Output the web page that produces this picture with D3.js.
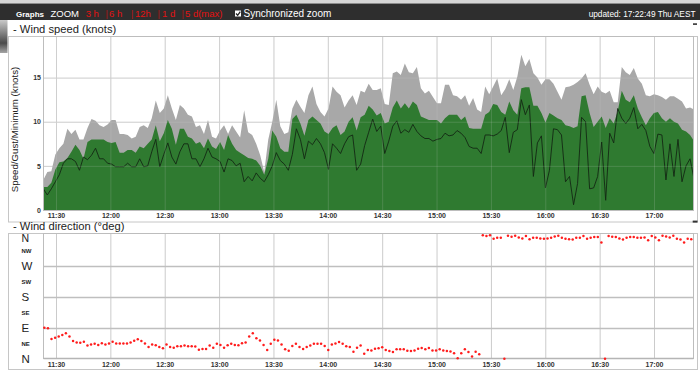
<!DOCTYPE html>
<html>
<head>
<meta charset="utf-8">
<title>Wind</title>
<script src="https://cdn.jsdelivr.net/npm/d3@7"></script>
<style>
  body { margin: 0; background: #fff; }
  svg { display: block; font-family: "Liberation Sans", Arial, sans-serif; }
</style>
</head>
<body>
<svg id="chart" width="700" height="372"></svg>
<script>
// speed samples (knots), roughly every 2 minutes
var speedStart = "11:23:00";
var speedStepSec = 133;

var gust = [3.4, 4.3, 4.4, 6.3, 7.0, 7.5, 9.2, 8.6, 9.1, 8.0,
  8.0, 9.3, 10.3, 10.1, 9.6, 9.4, 9.7, 10.2, 10.2, 8.6,
  8.6, 8.5, 8.1, 8.3, 9.4, 9.6, 9.3, 10.4, 12.4, 11.0,
  11.5, 13.0, 11.5, 10.2, 11.9, 11.5, 10.8, 10.6, 9.4, 9.6,
  8.6, 10.2, 8.3, 8.1, 9.0, 9.6, 8.6, 9.6, 8.9, 8.2,
  11.3, 8.8, 8.5, 7.5, 6.2, 4.3, 8.0, 10.0, 12.5, 9.5,
  8.6, 8.8, 11.5, 12.5, 11.7, 11.0, 13.0, 14.0, 12.0, 11.1,
  10.6, 11.5, 14.0, 13.4, 13.0, 11.6, 12.4, 13.0, 11.9, 13.5,
  13.3, 14.3, 13.6, 13.6, 13.8, 12.0, 11.9, 15.5, 15.7, 15.3,
  16.6, 15.6, 15.5, 16.2, 13.8, 13.2, 13.5, 12.8, 12.1, 12.1,
  14.2, 14.2, 13.0, 12.9, 12.5, 13.0, 11.8, 12.7, 11.4, 11.1,
  14.0, 13.1, 14.0, 14.9, 13.0, 13.7, 14.8, 13.6, 15.1, 17.6,
  16.3, 17.1, 15.5, 15.0, 14.2, 14.8, 14.8, 14.3, 13.4, 12.5,
  13.9, 14.0, 14.2, 14.5, 14.9, 15.5, 14.2, 13.1, 14.0, 13.4,
  13.2, 13.5, 12.2, 12.2, 16.2, 15.6, 15.3, 16.1, 14.9, 14.3,
  13.0, 12.9, 13.1, 13.0, 12.8, 12.5, 12.9, 12.9, 12.6, 12.3,
  11.5, 11.6, 11.4];

var speed = [2.6, 2.6, 3.1, 4.6, 5.4, 5.5, 5.9, 6.6, 7.4, 6.8,
  5.8, 7.7, 8.0, 8.0, 8.0, 8.0, 7.7, 7.6, 7.7, 6.5,
  6.5, 6.8, 6.8, 6.5, 7.2, 7.0, 7.5, 8.0, 9.6, 7.8,
  8.7, 10.2, 9.2, 7.4, 9.2, 9.2, 8.3, 8.1, 7.5, 7.7,
  7.0, 8.1, 7.2, 6.9, 7.7, 6.8, 8.5, 7.5, 6.8, 6.5,
  6.2, 5.9, 5.8, 5.6, 5.0, 4.0, 5.8, 9.0, 8.3, 7.0,
  6.6, 6.6, 10.3, 10.8, 9.8, 8.4, 10.2, 10.6, 10.2, 9.8,
  8.9, 8.6, 9.3, 9.6, 8.5, 8.9, 10.0, 10.5, 9.0, 10.5,
  10.8, 11.8, 11.4, 10.7, 11.0, 9.8, 10.0, 11.6, 12.4, 11.5,
  12.1, 11.5, 12.3, 11.9, 10.6, 10.4, 10.2, 10.2, 10.2, 9.8,
  10.4, 10.8, 10.8, 10.8, 10.2, 10.6, 9.3, 9.2, 9.2, 9.2,
  10.8, 11.1, 12.0, 11.9, 11.1, 10.8, 12.3, 11.3, 10.8, 13.8,
  13.9, 13.9, 11.8, 11.8, 11.0, 9.9, 11.0, 10.7, 10.4, 10.2,
  9.6, 9.5, 9.3, 9.5, 12.9, 13.0, 11.0, 9.4, 10.0, 10.6,
  9.3, 10.4, 9.8, 11.2, 13.5, 12.5, 12.2, 13.0, 11.5, 10.5,
  9.6, 10.4, 11.0, 11.1, 10.4, 10.0, 10.4, 10.0, 9.8, 9.1,
  8.9, 8.5, 7.8];

var minimum = [2.4, 1.7, 2.4, 3.2, 4.0, 5.3, 5.8, 5.8, 5.5, 4.5,
  6.0, 5.7, 6.2, 7.0, 5.8, 5.8, 5.3, 5.2, 4.9, 4.9,
  4.9, 5.3, 4.9, 4.9, 5.8, 4.9, 5.0, 6.6, 8.0, 4.9,
  6.3, 7.6, 6.0, 5.2, 6.6, 7.5, 7.5, 5.8, 5.8, 4.9,
  5.8, 7.0, 6.0, 5.8, 5.5, 4.3, 5.8, 5.6, 5.0, 5.3,
  3.2, 3.8, 3.3, 4.2, 3.6, 3.2, 4.0, 5.0, 6.5, 5.6,
  5.2, 4.5, 6.3, 9.2, 8.0, 5.8, 7.8, 7.4, 8.1, 7.5,
  6.5, 4.6, 7.5, 7.0, 6.4, 7.5, 8.3, 8.5, 4.5, 5.2,
  7.3, 8.8, 10.3, 8.9, 9.5, 6.4, 7.8, 9.5, 10.1, 8.7,
  9.1, 8.8, 9.7, 8.9, 8.4, 8.1, 8.1, 7.8, 8.0, 8.1,
  8.7, 8.4, 8.5, 9.0, 8.7, 8.2, 7.2, 7.0, 7.0, 6.4,
  8.5, 8.5, 8.4, 8.6, 9.0, 10.5, 6.5, 8.8, 9.1, 12.5,
  10.8, 11.9, 3.8, 7.6, 8.4, 2.5, 4.5, 9.2, 9.1, 8.5,
  3.2, 3.8, 0.6, 3.0, 10.5, 10.0, 2.4, 2.5, 3.8, 7.7,
  1.1, 8.7, 7.6, 11.5, 10.4, 9.8, 10.4, 11.6, 9.2, 9.7,
  9.0, 7.2, 6.4, 8.6, 8.5, 3.4, 7.5, 3.8, 8.0, 3.2,
  5.0, 5.8, 3.5];

// wind direction (degrees), roughly every 2 minutes
var dirStart = "11:23:34";
var dirStepSec = 119;

var direction = [91, 89, 58, 62, 65, 70, 75, 65, 52, 48,
  47, 50, 39, 42, 44, 41, 46, 42, 45, 50,
  45, 45, 45, 45, 48, 53, 57, 52, 45, 35,
  42, 40, 35, 31, 42, 35, 33, 37, 37, 39,
  37, 37, 36, 27, 29, 29, 39, 33, 44, 41,
  33, 40, 44, 41, 40, 46, 48, 65, 75, 60,
  54, 41, 26, 44, 56, 54, 42, 28, 24, 38,
  44, 35, 29, 35, 39, 44, 44, 44, 38, 26,
  42, 45, 49, 44, 37, 35, 21, 33, 39, 15,
  26, 25, 30, 31, 34, 26, 23, 20, 28, 28,
  28, 24, 23, 25, 30, 32, 28, 32, 25, 25,
  28, 25, 23, 22, 17, 2, 17, 28, 20, 7,
  21, 14, 359, 357, 359, 349, 352, 352, 1, 358,
  355, 358, 353, 350, 357, 348, 352, 352, 350, 349,
  350, 352, 356, 358, 352, 349, 348, 347, 352, 352,
  357, 349, 352, 354, 354, 338, 1, 357, 355, 354,
  350, 347, 352, 354, 354, 352, 352, 353, 345, 357,
  353, 345, 358, 356, 353, 358, 349, 347, 338, 349,
  348];

var timeTickLabels = ["11:30", "12:00", "12:30", "13:00", "13:30", "14:00",
  "14:30", "15:00", "15:30", "16:00", "16:30", "17:00"];
var speedTicks = [0, 5, 10, 15];
var speedGrid = [5, 10, 15];
var dirTickDeg = [0, 45, 90, 135, 180, 225, 270, 315, 360];
var dirTickLabels = ["N", "NE", "E", "SE", "S", "SW", "W", "NW", "N"];
var dirGrid = [90, 180, 270];
var zoomLinks = ["3 h", "6 h", "12h", "1 d", "5 d(max)"];
var updatedText = "updated: 17:22:49 Thu AEST";

var parseHMS = d3.timeParse("%H:%M:%S");
var parseHM = d3.timeParse("%H:%M");
var fmtHM = d3.timeFormat("%H:%M");

var speedTimes = gust.map(function(d, i) {
  return new Date(parseHMS(speedStart).getTime() + i * speedStepSec * 1000);
});
var dirTimes = direction.map(function(d, i) {
  return new Date(parseHMS(dirStart).getTime() + i * dirStepSec * 1000);
});
var tickTimes = timeTickLabels.map(function(t) { return parseHM(t); });

var plotL = 43.5, plotR = 693.5;
var sTop = 36.5, sBot = 210.5;
var dTop = 233.5, dBot = 358.5;

var x = d3.scaleTime()
  .domain([parseHMS("11:22:50"), parseHMS("17:21:31")])
  .range([43, 693]);
var ySpeed = d3.scaleLinear().domain([0, 19.6]).range([210, 37]);
var yDir = d3.scaleLinear().domain([0, 360]).range([359, 235]);

var svg = d3.select("#chart");
var defs = svg.append("defs");

defs.append("clipPath").attr("id", "clipSpeed")
  .append("rect").attr("x", plotL).attr("y", sTop + 0.5)
  .attr("width", plotR - plotL - 0.5).attr("height", sBot - sTop - 0.5);
defs.append("clipPath").attr("id", "clipDir")
  .append("rect").attr("x", plotL - 2).attr("y", dTop)
  .attr("width", plotR - plotL + 3).attr("height", dBot - dTop + 1.5);

var grad = defs.append("linearGradient").attr("id", "strip")
  .attr("x1", 0).attr("y1", 0).attr("x2", 0).attr("y2", 1);
grad.append("stop").attr("offset", "0%").attr("stop-color", "#c9c9c9");
grad.append("stop").attr("offset", "35%").attr("stop-color", "#8a8a8a");
grad.append("stop").attr("offset", "70%").attr("stop-color", "#4a4a4a");
grad.append("stop").attr("offset", "100%").attr("stop-color", "#a5a5a5");

// ---- header bar
svg.append("rect").attr("x", 0).attr("y", 0).attr("width", 700).attr("height", 3.5).attr("fill", "#d6d6d6");
svg.append("rect").attr("x", 0).attr("y", 3.5).attr("width", 700).attr("height", 16.5).attr("fill", "#2e2e2e");

svg.append("text").attr("x", 16).attr("y", 16.8)
  .attr("font-size", 8).attr("font-weight", "bold").attr("fill", "#fff").text("Graphs");
svg.append("text").attr("x", 50.5).attr("y", 17)
  .attr("font-size", 9.5).attr("fill", "#fff").text("ZOOM");

var linkX = [85.7, 109, 135, 162, 185];
var sepX = [105.5, 131, 157.5, 181.5];
svg.selectAll(".zlink").data(zoomLinks).enter().append("text")
  .attr("class", "zlink")
  .attr("x", function(d, i) { return linkX[i]; })
  .attr("y", 17).attr("font-size", 9.5).attr("fill", "#e21212")
  .text(function(d) { return d; });
svg.selectAll(".zsep").data(sepX).enter().append("text")
  .attr("class", "zsep")
  .attr("x", function(d) { return d; })
  .attr("y", 17).attr("font-size", 9.5).attr("fill", "#b01818")
  .text("|");

svg.append("rect").attr("x", 235).attr("y", 10.5).attr("width", 6).attr("height", 6).attr("fill", "#fff");
svg.append("path").attr("d", "M236,13.5 L237.7,15.3 L240.3,11.6")
  .attr("fill", "none").attr("stroke", "#222").attr("stroke-width", 1.3);
svg.append("text").attr("x", 243.5).attr("y", 17)
  .attr("font-size", 10).attr("fill", "#fff").text("Synchronized zoom");
svg.append("text").attr("x", 695.5).attr("y", 16.5).attr("text-anchor", "end")
  .attr("font-size", 8.3).attr("fill", "#fff").text(updatedText);

// bit of background photo at the left edge
svg.append("rect").attr("x", 0).attr("y", 20).attr("width", 7.5).attr("height", 33).attr("fill", "url(#strip)");

// ---- wind speed panel
svg.append("text").attr("x", 13).attr("y", 33)
  .attr("font-size", 11.2).attr("fill", "#222").text("- Wind speed (knots)");
svg.append("rect").attr("x", 693).attr("y", 23.3).attr("width", 4).attr("height", 1.6).attr("fill", "#333");

svg.append("rect").attr("x", 8.5).attr("y", sTop).attr("width", 689).attr("height", 185.5)
  .attr("fill", "#fff").attr("stroke", "#c6c6c6");

function styleGrid(g, color, width) {
  g.select(".domain").remove();
  g.selectAll(".tick line").attr("stroke", color).attr("stroke-width", width);
  g.selectAll(".tick text").remove();
}

svg.append("g").attr("transform", "translate(0," + sBot + ")")
  .call(d3.axisBottom(x).tickValues(tickTimes).tickSize(-(sBot - sTop)).tickFormat(""))
  .call(styleGrid, "#cfcfcf", 1);
svg.append("g").attr("transform", "translate(" + plotL + ",0)")
  .call(d3.axisLeft(ySpeed).tickValues(speedGrid).tickSize(-(plotR - plotL)).tickFormat(""))
  .call(styleGrid, "#cfcfcf", 1);

var plot = svg.append("g").attr("clip-path", "url(#clipSpeed)");

var areaOf = function(series) {
  return d3.area()
    .x(function(d, i) { return x(speedTimes[i]); })
    .y0(ySpeed(0))
    .y1(function(d) { return ySpeed(d); })(series);
};

plot.append("path").attr("d", areaOf(gust)).attr("fill", "#a8a8a8");
plot.append("path").attr("d", areaOf(speed)).attr("fill", "#2f7a30");

var minLine = d3.line()
  .x(function(d, i) { return x(speedTimes[i]); })
  .y(function(d) { return ySpeed(d); });
plot.append("path").attr("d", minLine(minimum))
  .attr("fill", "none").attr("stroke", "#142814").attr("stroke-width", 0.9);

// faint grid over the filled areas
svg.append("g").attr("transform", "translate(0," + sBot + ")")
  .call(d3.axisBottom(x).tickValues(tickTimes).tickSize(-(sBot - sTop)).tickFormat(""))
  .call(styleGrid, "rgba(210,210,210,0.18)", 1);
svg.append("g").attr("transform", "translate(" + plotL + ",0)")
  .call(d3.axisLeft(ySpeed).tickValues(speedGrid).tickSize(-(plotR - plotL)).tickFormat(""))
  .call(styleGrid, "rgba(210,210,210,0.18)", 1);

svg.append("rect").attr("x", plotL).attr("y", sTop).attr("width", plotR - plotL).attr("height", sBot - sTop)
  .attr("fill", "none").attr("stroke", "#bdbdbd");

function styleLabels(g) {
  g.select(".domain").remove();
  g.attr("font-family", null).attr("font-size", 7).attr("font-weight", "bold").attr("color", "#333");
}

svg.append("g").attr("transform", "translate(0," + sBot + ")")
  .call(d3.axisBottom(x).tickValues(tickTimes).tickFormat(fmtHM).tickSize(0).tickPadding(3))
  .call(styleLabels);
svg.append("g").attr("transform", "translate(" + plotL + ",0)")
  .call(d3.axisLeft(ySpeed).tickValues(speedTicks).tickSize(0).tickPadding(2.5))
  .call(styleLabels);

svg.append("text")
  .attr("transform", "translate(18," + ((sTop + sBot) / 2 + 6) + ") rotate(-90)")
  .attr("text-anchor", "middle").attr("font-size", 9.7).attr("fill", "#222")
  .text("Speed/Gust/Minimum (knots)");

svg.append("rect").attr("x", 692.7).attr("y", 220.6).attr("width", 4.8).attr("height", 2).attr("fill", "#333");

// ---- wind direction panel
svg.append("text").attr("x", 13).attr("y", 229.5)
  .attr("font-size", 11.2).attr("fill", "#222").text("- Wind direction (\u00b0deg)");

svg.append("rect").attr("x", 8.5).attr("y", dTop).attr("width", 689).attr("height", 136)
  .attr("fill", "#fff").attr("stroke", "#c6c6c6");

svg.append("g").attr("transform", "translate(0," + dBot + ")")
  .call(d3.axisBottom(x).tickValues(tickTimes).tickSize(-(dBot - dTop)).tickFormat(""))
  .call(styleGrid, "#cbcbcb", 1);
svg.append("g").attr("transform", "translate(" + plotL + ",0)")
  .call(d3.axisLeft(yDir).tickValues(dirGrid).tickSize(-(plotR - plotL)).tickFormat(""))
  .call(styleGrid, "#bfbfbf", 1.6);

svg.append("rect").attr("x", plotL).attr("y", dTop).attr("width", plotR - plotL).attr("height", dBot - dTop)
  .attr("fill", "none").attr("stroke", "#bdbdbd");
svg.append("line").attr("x1", plotL).attr("x2", plotR).attr("y1", dBot).attr("y2", dBot)
  .attr("stroke", "#b5b5b5").attr("stroke-width", 1.4);

svg.append("g").attr("clip-path", "url(#clipDir)")
  .selectAll("circle").data(direction).enter().append("circle")
  .attr("cx", function(d, i) { return x(dirTimes[i]); })
  .attr("cy", function(d) { return yDir(d); })
  .attr("r", 1.25)
  .attr("fill", "#ff1c1c");

svg.append("g").attr("transform", "translate(0," + dBot + ")")
  .call(d3.axisBottom(x).tickValues(tickTimes).tickFormat(fmtHM).tickSize(0).tickPadding(3.3))
  .call(styleLabels);

// compass labels; the top "N" sits just inside the panel edge
svg.append("g")
  .selectAll("text").data(dirTickDeg).enter().append("text")
  .attr("x", 21.5)
  .attr("y", function(d) { return d === 360 ? 241.5 : yDir(d); })
  .attr("dy", function(d) { return d === 360 ? null : "0.36em"; })
  .attr("font-size", function(d, i) {
    if (dirTickLabels[i].length > 1) return 6;
    return d === 360 ? 10.5 : 11.5;
  })
  .attr("font-weight", function(d, i) { return dirTickLabels[i].length > 1 ? "bold" : "normal"; })
  .attr("fill", "#222")
  .text(function(d, i) { return dirTickLabels[i]; });
</script>
</body>
</html>
